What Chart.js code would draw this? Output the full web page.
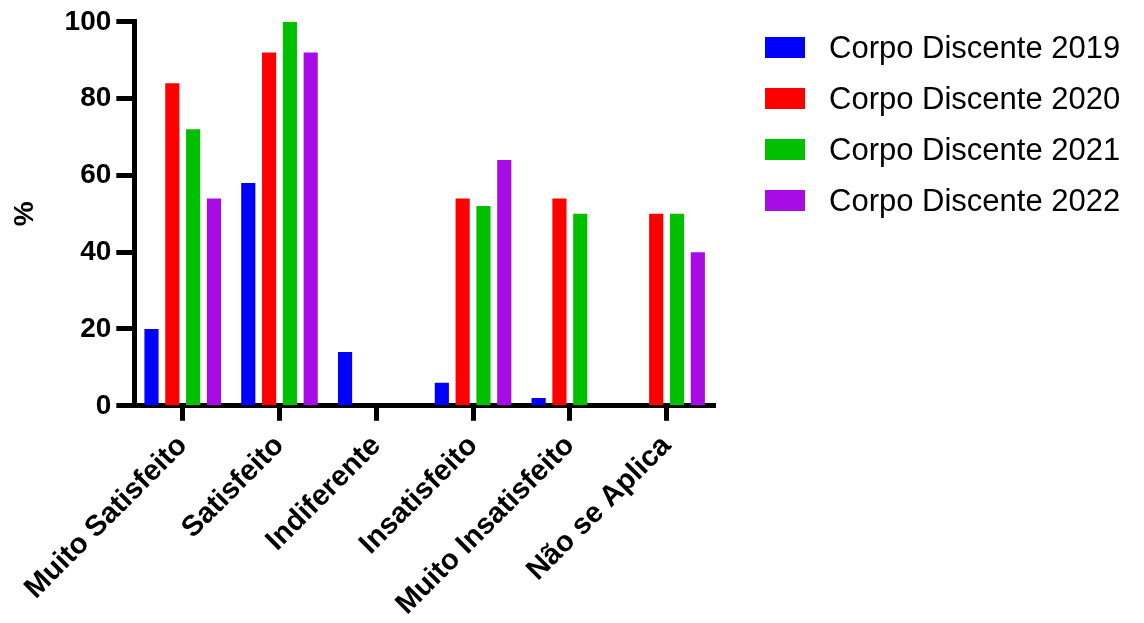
<!DOCTYPE html>
<html>
<head>
<meta charset="utf-8">
<script src="https://cdn.jsdelivr.net/npm/chart.js@4"></script>
<style>
  html, body { margin: 0; padding: 0; background: #fff; }
  #wrap { position: relative; width: 1144px; height: 623px; }
  #legend { position: absolute; left: 765px; top: 22px; font-family: Arial, 'Liberation Sans', sans-serif; font-size: 31px; color: #000; }
  .item { display: flex; align-items: center; height: 51px; white-space: nowrap; }
  .box { width: 40px; height: 21px; margin-right: 24px; }
</style>
</head>
<body>
<div id="wrap">
  <canvas id="myChart"></canvas>
  <div id="legend"></div>
</div>
<script>
var categories = ["Muito Satisfeito", "Satisfeito", "Indiferente", "Insatisfeito", "Muito Insatisfeito", "Não se Aplica"];
var seriesNames = ["Corpo Discente 2019", "Corpo Discente 2020", "Corpo Discente 2021", "Corpo Discente 2022"];
var values2019 = [20, 58, 14, 6, 2, 0];
var values2020 = [84, 92, 0, 54, 54, 50];
var values2021 = [72, 100, 0, 52, 50, 50];
var values2022 = [54, 92, 0, 64, 0, 40];
var yTicks = [0, 20, 40, 60, 80, 100];
var barColors = ["#0000FF", "#FF0000", "#00C000", "#A80CE6"];

var allValues = [values2019, values2020, values2021, values2022];
var font = "Arial, 'Liberation Sans', sans-serif";

var chart = new Chart("myChart", {
  type: "bar",
  data: {
    labels: categories,
    datasets: allValues.map(function (vals, i) {
      return {
        label: seriesNames[i],
        data: vals,
        backgroundColor: barColors[i],
        borderWidth: 0,
        categoryPercentage: 0.86,
        barPercentage: 0.68
      };
    })
  },
  options: {
    responsive: true,
    maintainAspectRatio: false,
    animation: false,
    layout: { padding: { top: 11, left: 8, right: 429, bottom: 0 } },
    plugins: {
      tooltip: { enabled: false },
      legend: { display: false }
    },
    scales: {
      x: {
        offset: true,
        afterFit: function (scale) { scale.height = scale.height - 7; },
        grid: {
          display: true,
          drawOnChartArea: false,
          drawTicks: true,
          tickLength: 15,
          tickWidth: 5,
          tickColor: "#000",
          offset: false
        },
        border: { color: "#000", width: 5 },
        ticks: {
          color: "#000",
          minRotation: 45,
          maxRotation: 45,
          padding: 8,
          font: { family: font, size: 29, weight: "bold" }
        }
      },
      y: {
        min: 0,
        max: 100,
        afterBuildTicks: function (scale) {
          scale.ticks = yTicks.map(function (v) { return { value: v }; });
        },
        grid: {
          display: true,
          drawOnChartArea: false,
          drawTicks: true,
          tickLength: 18,
          tickWidth: 5,
          tickColor: "#000"
        },
        border: { color: "#000", width: 5 },
        ticks: {
          color: "#000",
          padding: 5,
          font: { family: font, size: 28, weight: "bold" }
        },
        title: {
          display: true,
          text: "%",
          color: "#000",
          padding: { top: 0, bottom: 18 },
          font: { family: font, size: 28, weight: "bold" }
        }
      }
    }
  }
});

// legend built from the datasets
var legend = document.getElementById("legend");
chart.data.datasets.forEach(function (ds) {
  var row = document.createElement("div");
  row.className = "item";
  var box = document.createElement("span");
  box.className = "box";
  box.style.background = ds.backgroundColor;
  row.appendChild(box);
  row.appendChild(document.createTextNode(ds.label));
  legend.appendChild(row);
});
</script>
</body>
</html>
